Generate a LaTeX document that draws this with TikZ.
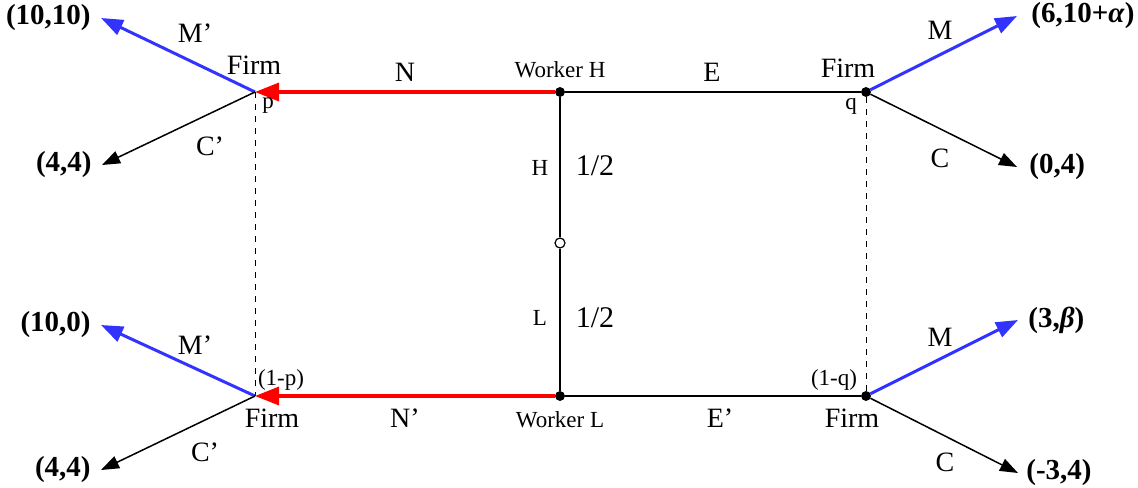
\documentclass[tikz,border=0pt]{standalone}
\usepackage{fontspec}
\setmainfont{Liberation Serif}
\usepackage{xcolor}
\definecolor{moveBlue}{RGB}{51,51,255}
\definecolor{offerRed}{RGB}{255,0,0}
\usetikzlibrary{arrows.meta, positioning}

\begin{document}
\begin{tikzpicture}[
    x=0.5pt, y=-0.5pt,
    dot/.style={circle, fill=black, draw=black, inner sep=0pt, minimum size=4.5pt},
    chance/.style={circle, draw=black, fill=white, line width=0.6pt, inner sep=0pt, minimum size=5pt},
    lbl/.style={font=\fontsize{14}{16}\selectfont, inner sep=1pt},
    tag/.style={font=\fontsize{11.5}{13}\selectfont, inner sep=1pt},
    half/.style={font=\fontsize{15}{17}\selectfont, inner sep=1pt},
    pay/.style={font=\fontsize{14.5}{17}\selectfont\bfseries, inner sep=1pt},
    edge/.style={line width=0.75pt},
    info/.style={dashed, line width=0.5pt},
    offer/.style={-{Triangle[length=12pt,width=9pt]}, color=offerRed, line width=1.6pt},
    mover/.style={-{Triangle[length=11pt,width=8pt]}, color=moveBlue, line width=1.5pt},
    cover/.style={-{Triangle[length=9pt,width=6.5pt]}, line width=0.75pt}
]
\useasboundingbox (0,0) rectangle (1138,487);

% decision points
\coordinate (fp) at (255,92);
\node[dot] (wh) at (560,92) {};
\node[dot] (fq) at (866,92) {};
\node[chance] (nat) at (560,243) {};
\node[dot] (wl) at (560,396) {};
\coordinate (fp2) at (255,396);
\node[dot] (fq2) at (866,396) {};

% arrow ends
\coordinate (pMa) at (101,18);
\coordinate (pCa) at (102,165);
\coordinate (qMa) at (1017,16);
\coordinate (qCa) at (1017,167);
\coordinate (pMb) at (101,325);
\coordinate (pCb) at (101,470);
\coordinate (qMb) at (1018,320);
\coordinate (qCb) at (1018,473);

% information sets
\draw[info] (fp) -- (fp2);
\draw[info] (fq) -- (fq2);

% tree
\draw[edge] (wh) -- (nat);
\draw[edge] (nat) -- (wl);
\draw[offer] (wh) -- (fp);
\draw[offer] (wl) -- (fp2);
\draw[edge] (wh) -- (fq);
\draw[edge] (wl) -- (fq2);

\draw[mover] (fp) -- (pMa);
\draw[cover] (fp) -- (pCa);
\draw[mover] (fq) -- (qMa);
\draw[cover] (fq) -- (qCa);
\draw[mover] (fp2) -- (pMb);
\draw[cover] (fp2) -- (pCb);
\draw[mover] (fq2) -- (qMb);
\draw[cover] (fq2) -- (qCb);

% payoffs
\node[pay, anchor=east] (uMa) at ([xshift=-4pt]pMa) {(10,10)};
\node[pay, anchor=east] (uCa) at ([xshift=-4pt]pCa) {(4,4)};
\node[pay, anchor=west] (vMa) at ([xshift=6pt]qMa) {(6,10+\textit{α})};
\node[pay, anchor=west] (vCa) at ([xshift=5pt]qCa) {(0,4)};
\node[pay, anchor=east] (uMb) at ([xshift=-4pt]pMb) {(10,0)};
\node[pay, anchor=east] (uCb) at ([xshift=-4pt]pCb) {(4,4)};
\node[pay, anchor=west] (vMb) at ([xshift=4pt]qMb) {(3,\textit{β})};
\node[pay, anchor=west] (vCb) at ([xshift=3pt]qCb) {(-3,4)};

% labels
\node[lbl] (tN) at (405,72) {N};
\node[lbl] (tE) at (712,72) {E};
\node[lbl] (tN2) at (405,418) {N'};
\node[lbl] (tE2) at (720,418) {E'};
\node[tag] (tWH) at (560,70) {Worker H};
\node[tag] (tWL) at (560,420) {Worker L};
\node[tag] (tH) at (540,168) {H};
\node[tag] (tL) at (540,318) {L};
\node[half] (pH) at (595,166) {1/2};
\node[half] (pL) at (595,318) {1/2};

\node[lbl] (tFa) at (254,65) {Firm};
\node[lbl] (tFb) at (848,68) {Firm};
\node[lbl] (tFc) at (272,418) {Firm};
\node[lbl] (tFd) at (852,418) {Firm};
\node[tag] (bp) at (268,106) {p};
\node[tag] (bq) at (851,106) {q};
\node[tag] (bp2) at (281,380) {(1-p)};
\node[tag] (bq2) at (834,380) {(1-q)};

\node[lbl] (tMa) at (195,33) {M'};
\node[lbl] (tCa) at (210,146) {C'};
\node[lbl] (tMb) at (940,30) {M};
\node[lbl] (tCb) at (940,158) {C};
\node[lbl] (tMc) at (195,345) {M'};
\node[lbl] (tCc) at (205,452) {C'};
\node[lbl] (tMd) at (940,337) {M};
\node[lbl] (tCd) at (945,462) {C};
\end{tikzpicture}
\end{document}
